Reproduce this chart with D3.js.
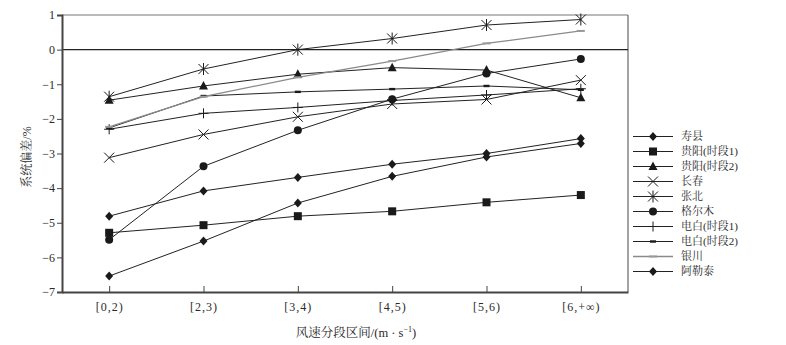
<!DOCTYPE html>
<html><head><meta charset="utf-8">
<script src="https://cdn.jsdelivr.net/npm/d3@7"></script>
<style>
html,body{margin:0;padding:0;background:#fff;}
text{font-family:"Liberation Serif","Noto Serif CJK SC","Noto Sans CJK SC",serif;fill:#2a2a2a;}
</style></head>
<body>
<svg id="c" width="786" height="345"></svg>
<script>
const categories = ["[0,2)", "[2,3)", "[3,4)", "[4,5)", "[5,6)", "[6,+∞)"];
const yTicks = [1, 0, -1, -2, -3, -4, -5, -6, -7];
const seriesNames = ["寿县", "贵阳(时段1)", "贵阳(时段2)", "长春", "张北", "格尔木", "电白(时段1)", "电白(时段2)", "银川", "阿勒泰"];
const shouxian   = [-4.81, -4.08, -3.69, -3.31, -3.00, -2.57];
const guiyang1   = [-5.29, -5.07, -4.81, -4.67, -4.41, -4.20];
const guiyang2   = [-1.46, -1.05, -0.71, -0.52, -0.59, -1.39];
const changchun  = [-3.12, -2.45, -1.94, -1.57, -1.44, -0.88];
const zhangbei   = [-1.36, -0.56, 0.00, 0.32, 0.71, 0.87];
const geermu     = [-5.49, -3.37, -2.33, -1.43, -0.69, -0.27];
const dianbai1   = [-2.30, -1.84, -1.67, -1.47, -1.31, -1.13];
const dianbai2   = [-2.26, -1.34, -1.22, -1.14, -1.05, -1.16];
const yinchuan   = [-2.23, -1.36, -0.80, -0.33, 0.18, 0.54];
const aletai     = [-6.54, -5.53, -4.43, -3.66, -3.10, -2.71];
const seriesValues = [shouxian, guiyang1, guiyang2, changchun, zhangbei, geermu, dianbai1, dianbai2, yinchuan, aletai];
const markerTypes = ["diamond", "square", "triangle", "x", "asterisk", "circle", "plus", "dash", "graydash", "diamond"];

const svg = d3.select("#c");
const L = 62, R = 628, T = 15, B = 292;
const x = d3.scalePoint().domain(categories).range([L, R]).padding(0.5);
const y = d3.scaleLinear().domain([-7, 1]).range([B, T]);

// frame top & right
svg.append("line").attr("x1", L).attr("x2", R).attr("y1", T).attr("y2", T).attr("stroke", "#777").attr("stroke-width", 1.2);
svg.append("line").attr("x1", R).attr("x2", R).attr("y1", T).attr("y2", B).attr("stroke", "#666").attr("stroke-width", 1.2);
// zero line
svg.append("line").attr("x1", L).attr("x2", R).attr("y1", y(0)).attr("y2", y(0)).attr("stroke", "#222").attr("stroke-width", 1.1);

// axes
const ya = svg.append("g").attr("transform", `translate(${L},0)`)
  .call(d3.axisLeft(y).tickValues(yTicks).tickSize(5).tickPadding(2).tickFormat(d3.format("d")));
ya.select(".domain").attr("stroke", "#444").attr("stroke-width", 2);
ya.selectAll(".tick line").attr("stroke", "#444");
ya.selectAll(".tick text").attr("font-size", 12).attr("fill", "#2a2a2a");

const xa = svg.append("g").attr("transform", `translate(0,${B})`)
  .call(d3.axisBottom(x).tickSizeInner(-6).tickSizeOuter(0).tickPadding(10));
xa.select(".domain").attr("stroke", "#444").attr("stroke-width", 2);
xa.selectAll(".tick line").attr("stroke", "#444");
xa.selectAll(".tick text").attr("font-size", 12).attr("letter-spacing", 1).attr("fill", "#2a2a2a");

// titles
svg.append("text").attr("transform", "translate(31,157) rotate(-90)").attr("text-anchor", "middle")
  .attr("font-size", 12).text("系统偏差/%");
const xt = svg.append("text").attr("x", 356).attr("y", 337).attr("text-anchor", "middle").attr("font-size", 12.5);
xt.append("tspan").text("风速分段区间/(m · s");
xt.append("tspan").attr("dy", -5).attr("font-size", 8).text("−1");
xt.append("tspan").attr("dy", 5).text(")");

function drawMarker(g, type, cx, cy) {
  const k = "#1a1a1a";
  if (type === "diamond") {
    g.append("path").attr("d", `M${cx},${cy-4.5}L${cx+4},${cy}L${cx},${cy+4.5}L${cx-4},${cy}Z`).attr("fill", k);
  } else if (type === "square") {
    g.append("rect").attr("x", cx-4).attr("y", cy-4).attr("width", 8).attr("height", 8).attr("fill", k);
  } else if (type === "triangle") {
    g.append("path").attr("d", `M${cx},${cy-5}L${cx+4.5},${cy+3.5}L${cx-4.5},${cy+3.5}Z`).attr("fill", k);
  } else if (type === "circle") {
    g.append("circle").attr("cx", cx).attr("cy", cy).attr("r", 4).attr("fill", k);
  } else if (type === "x") {
    g.append("path").attr("d", `M${cx-5},${cy-5}L${cx+5},${cy+5}M${cx-5},${cy+5}L${cx+5},${cy-5}`).attr("stroke", k).attr("stroke-width", 1);
  } else if (type === "asterisk") {
    g.append("path").attr("d", `M${cx-5},${cy-5}L${cx+5},${cy+5}M${cx-5},${cy+5}L${cx+5},${cy-5}M${cx},${cy-6}L${cx},${cy+6}`).attr("stroke", k).attr("stroke-width", 1);
  } else if (type === "plus") {
    g.append("path").attr("d", `M${cx},${cy-5}L${cx},${cy+5}M${cx-5},${cy}L${cx+5},${cy}`).attr("stroke", k).attr("stroke-width", 1);
  } else if (type === "dash") {
    g.append("rect").attr("x", cx-3).attr("y", cy-1.2).attr("width", 6).attr("height", 2.4).attr("fill", k);
  } else if (type === "graydash") {
    g.append("rect").attr("x", cx-4).attr("y", cy-1).attr("width", 8).attr("height", 2).attr("fill", "#999");
  }
}

const line = d3.line().x((d, i) => x(categories[i])).y(d => y(d));
const plot = svg.append("g");
seriesValues.forEach((vals, si) => {
  const gray = markerTypes[si] === "graydash";
  plot.append("path").attr("d", line(vals)).attr("fill", "none")
    .attr("stroke", gray ? "#8a8a8a" : "#222").attr("stroke-width", gray ? 1.3 : 1);
});
seriesValues.forEach((vals, si) => {
  const g = plot.append("g");
  vals.forEach((v, i) => drawMarker(g, markerTypes[si], x(categories[i]), y(v)));
});

// legend
const lg = svg.append("g");
seriesNames.forEach((n, i) => {
  const ly = 136.5 + i * 15;
  const gray = markerTypes[i] === "graydash";
  lg.append("line").attr("x1", 633).attr("x2", 673).attr("y1", ly).attr("y2", ly)
    .attr("stroke", gray ? "#8a8a8a" : "#222").attr("stroke-width", gray ? 1.3 : 1);
  drawMarker(lg, markerTypes[i], 653, ly);
  lg.append("text").attr("x", 681).attr("y", ly).attr("dy", "0.35em").attr("font-size", 11).text(n);
});
</script>
</body></html>
